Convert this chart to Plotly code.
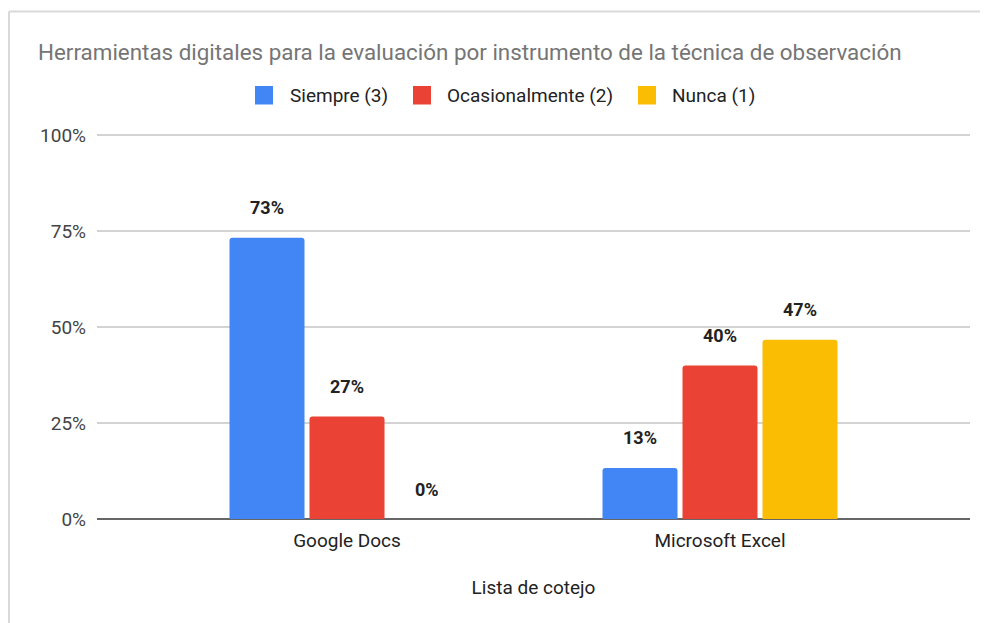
import plotly.graph_objects as go

categories = ["Google Docs", "Microsoft Excel"]
series_names = ["Siempre (3)", "Ocasionalmente (2)", "Nunca (1)"]
siempre = [0.733, 0.133]
ocasionalmente = [0.267, 0.400]
nunca = [0.0, 0.467]
y_ticks = [0, 0.25, 0.5, 0.75, 1.0]
y_tick_labels = ["0%", "25%", "50%", "75%", "100%"]

colors = ["#4285F4", "#EA4335", "#FBBC04"]
series_values = [siempre, ocasionalmente, nunca]

FONT = "Roboto, Arial, sans-serif"
O = 8  # page body margin offset
PW, PH = 988, 623
W, H = PW - O, PH - O
# plot area in page pixels: x 97..970, y 134..519
L, R = 97 - O, PW - 970
T, B = 134 - O, PH - 519
pw, ph = W - L - R, H - T - B

def px_to_paper_x(px):
    return (px - O - L) / pw

def py_to_paper_y(py):
    return (H - B - (py - O)) / ph

unit_px = 373.0
bar_w = 75 / unit_px
centers = [-80 / unit_px, 0.0, 80 / unit_px]

fig = go.Figure()
xs = list(range(len(categories)))
for name, vals, col, c in zip(series_names, series_values, colors, centers):
    fig.add_trace(go.Bar(
        x=xs, y=vals, name=name, marker=dict(color=col, line=dict(width=0)),
        width=bar_w, offset=c - bar_w / 2, showlegend=False,
        hovertemplate="%{y:.0%}<extra>" + name + "</extra>",
    ))
    for i, v in enumerate(vals):
        fig.add_annotation(
            x=i + c, y=v, xref="x", yref="y", text="<b>%d%%</b>" % round(v * 100),
            showarrow=False, yshift=30, font=dict(size=18, color="#222222", family=FONT),
        )

span = pw / unit_px
left = -(347 - 97) / unit_px
fig.update_xaxes(
    range=[left, left + span], tickmode="array", tickvals=xs, ticktext=categories,
    showgrid=False, zeroline=False, showline=False, ticks="", ticklabelstandoff=8,
    tickfont=dict(size=19, color="#222222", family=FONT),
    title=dict(text="Lista de cotejo", font=dict(size=19, color="#222222", family=FONT), standoff=29),
)
fig.update_yaxes(
    range=[0, 1.003], tickmode="array", tickvals=y_ticks, ticktext=y_tick_labels,
    showgrid=True, gridcolor="#d3d3d3", gridwidth=1.5,
    zeroline=True, zerolinecolor="#666666", zerolinewidth=2,
    showline=False, ticks="", ticklabelstandoff=10,
    tickfont=dict(size=19, color="#444444", family=FONT),
)

# Border of the chart card
bx = px_to_paper_x(9)
by = py_to_paper_y(11.5)
shapes = [
    dict(type="line", xref="paper", yref="paper", x0=bx, x1=bx, y0=py_to_paper_y(PH + 5), y1=by,
         line=dict(color="#d9d9d9", width=2)),
    dict(type="line", xref="paper", yref="paper", x0=bx, x1=px_to_paper_x(PW + 5), y0=by, y1=by,
         line=dict(color="#d9d9d9", width=2)),
]

# Manual legend
legend_items = [(255, 288), (413, 445), (638, 670)]
for (sx, tx), name, col in zip(legend_items, series_names, colors):
    shapes.append(dict(type="rect", xref="paper", yref="paper",
                       x0=px_to_paper_x(sx), x1=px_to_paper_x(sx + 18),
                       y0=py_to_paper_y(104.5), y1=py_to_paper_y(86),
                       fillcolor=col, line=dict(width=0)))
    fig.add_annotation(x=px_to_paper_x(tx), y=py_to_paper_y(95.5), xref="paper", yref="paper",
                       xanchor="left", yanchor="middle", text=name, showarrow=False,
                       font=dict(size=19, color="#222222", family=FONT))

fig.update_layout(
    width=W, height=H, margin=dict(l=L, r=R, t=T, b=B),
    paper_bgcolor="white", plot_bgcolor="white",
    shapes=shapes, barcornerradius=3,
    title=dict(text="Herramientas digitales para la evaluación por instrumento de la técnica de observación",
               x=(38 - O) / W, xref="container", xanchor="left", y=1 - (52 - O) / H, yref="container",
               yanchor="middle",
               font=dict(size=22.4, color="#757575", family=FONT)),
    showlegend=False,
)

fig.write_html("out.html")
